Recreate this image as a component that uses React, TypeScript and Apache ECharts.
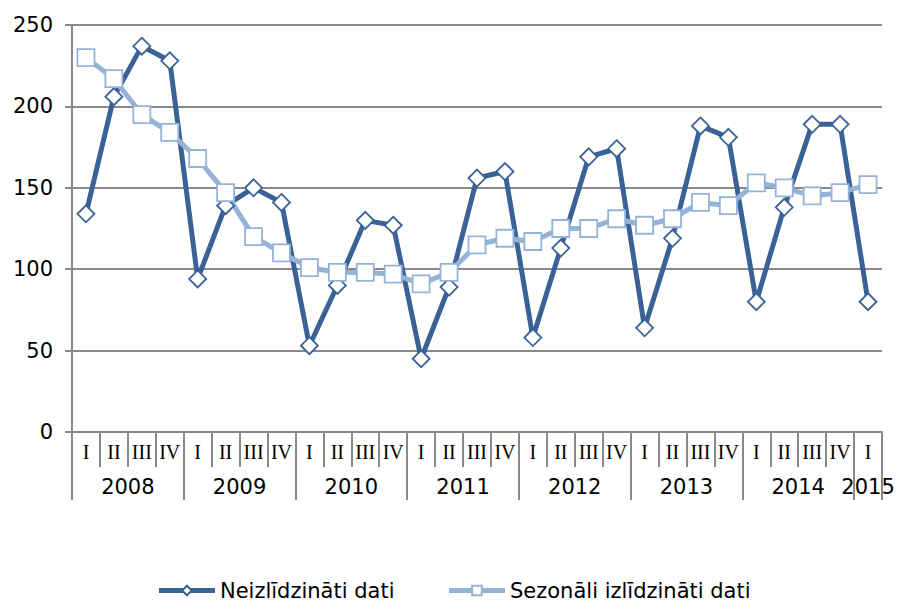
import React, { useEffect, useRef } from "react";
import * as echarts from "echarts";

const years = ["2008", "2009", "2010", "2011", "2012", "2013", "2014", "2015"];
const quartersPerYear = [4, 4, 4, 4, 4, 4, 4, 1];
const quarterNames = ["I", "II", "III", "IV"];
const yTicks = { min: 0, max: 250, interval: 50 };

const rawData = [134, 206, 237, 228, 94, 139, 150, 141, 53, 90, 130, 127, 45, 89, 156, 160, 58, 113, 169, 174, 64, 119, 188, 181, 80, 138, 189, 189, 80];
const seasonalData = [230, 217, 195, 184, 168, 147, 120, 110, 101, 98, 98, 97, 91, 98, 115, 119, 117, 125, 125, 131, 127, 131, 141, 139, 153, 150, 145, 147, 152];

const seriesNames = ["Neizlīdzināti dati", "Sezonāli izlīdzināti dati"];

export default function App() {
  const ref = useRef<HTMLDivElement>(null);

  useEffect(() => {
    if (!ref.current) return;
    const chart = echarts.init(ref.current, undefined, { renderer: "svg" });

    const quarterCats: string[] = [];
    quartersPerYear.forEach((n) => {
      for (let q = 0; q < n; q++) quarterCats.push(quarterNames[q]);
    });
    const total = quarterCats.length;

    const halfCats: string[] = new Array(total * 2 + 1).fill("");
    const sepIdx = new Set<number>();
    const labelIdx = new Set<number>();
    let start = 0;
    years.forEach((y, i) => {
      const n = quartersPerYear[i];
      sepIdx.add(start * 2);
      const mid = start * 2 + n;
      halfCats[mid] = y;
      labelIdx.add(mid);
      start += n;
    });
    sepIdx.add(start * 2);

    const grid = "#898989";
    const dark = "#3A6296";
    const light = "#95B3D7";
    const font = "DejaVu Sans";

    chart.setOption({
      animation: false,
      grid: { left: 72, right: 25, top: 25, bottom: 169, containLabel: false },
      legend: {
        data: [
          { name: seriesNames[0], icon: "diamond" },
          { name: seriesNames[1], icon: "rect" },
        ].map((d) => d.name),
        top: 580,
        left: "center",
        itemWidth: 56,
        itemHeight: 12,
        itemGap: 52,
        padding: 0,
        lineStyle: { width: 5 },
        textStyle: { fontFamily: font, fontSize: 21, color: "#000" },
      },
      xAxis: [
        {
          type: "category",
          data: quarterCats,
          boundaryGap: true,
          axisLine: { show: true, lineStyle: { color: grid, width: 2 } },
          axisTick: { show: true, interval: 0, length: 35, lineStyle: { color: grid, width: 2 } },
          axisLabel: {
            interval: 0,
            margin: 10,
            fontFamily: "Liberation Serif",
            fontSize: 20,
            color: "#000",
          },
        },
        {
          type: "category",
          data: halfCats,
          boundaryGap: false,
          position: "bottom",
          axisLine: { show: false },
          axisTick: {
            show: true,
            length: 68,
            interval: (i: number) => sepIdx.has(i),
            lineStyle: { color: grid, width: 2 },
          },
          axisLabel: {
            interval: (i: number) => labelIdx.has(i),
            margin: 44,
            fontFamily: font,
            fontSize: 21,
            color: "#000",
          },
        },
      ],
      yAxis: {
        type: "value",
        min: yTicks.min,
        max: yTicks.max,
        interval: yTicks.interval,
        axisLine: { show: true, lineStyle: { color: grid, width: 2 } },
        axisTick: { show: true, length: 7, lineStyle: { color: grid, width: 2 } },
        splitLine: { show: true, lineStyle: { color: grid, width: 2 } },
        axisLabel: { margin: 19, fontFamily: font, fontSize: 21, color: "#000" },
      },
      series: [
        {
          name: seriesNames[0],
          type: "line",
          xAxisIndex: 0,
          data: rawData,
          symbol: "diamond",
          symbolSize: 17,
          lineStyle: { color: dark, width: 5 },
          itemStyle: { color: "#fff", borderColor: dark, borderWidth: 1.8 },
        },
        {
          name: seriesNames[1],
          type: "line",
          xAxisIndex: 0,
          data: seasonalData,
          symbol: "rect",
          symbolSize: 17,
          lineStyle: { color: light, width: 5 },
          itemStyle: { color: "#fff", borderColor: light, borderWidth: 1.8 },
        },
      ],
    });

    return () => chart.dispose();
  }, []);

  return (
    <div
      ref={ref}
      style={{ position: "fixed", left: 0, top: 0, width: 907, height: 601, background: "#fff" }}
    />
  );
}
